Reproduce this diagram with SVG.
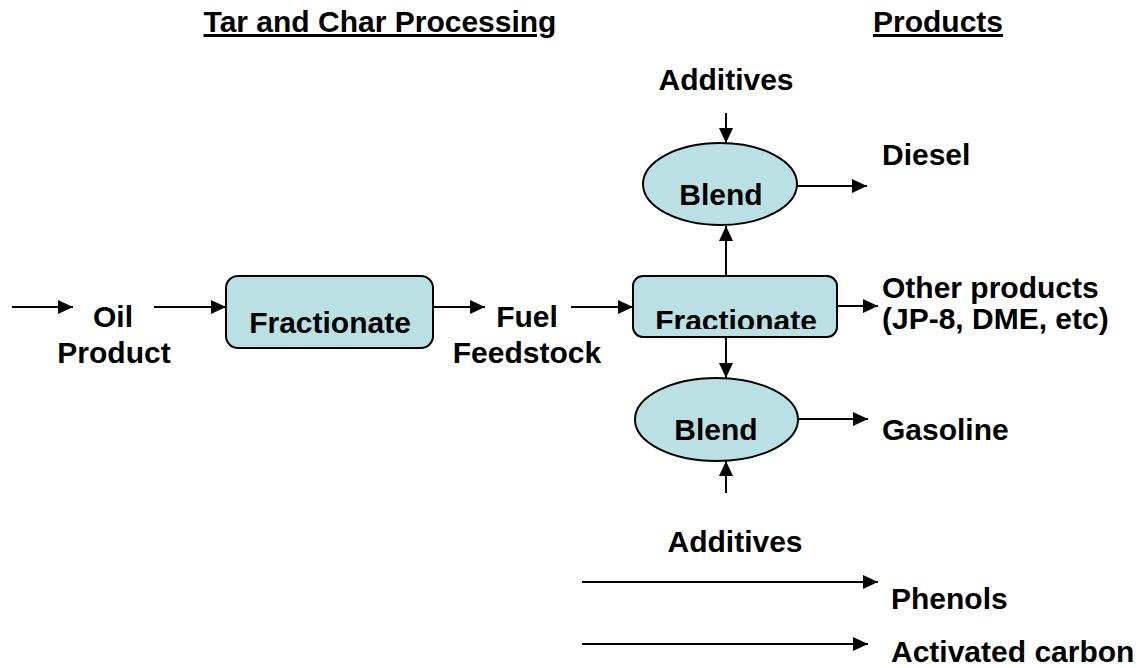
<svg xmlns="http://www.w3.org/2000/svg" width="1141" height="668" viewBox="0 0 1141 668">
<style>
text{font-family:"Liberation Sans",Arial,sans-serif;font-weight:bold;font-size:30px;fill:#000}
.title{text-decoration:underline}
.mid{text-anchor:middle}
.shape{fill:#BBE0E3;stroke:#000;stroke-width:2}
.conn line{stroke:#000;stroke-width:2;marker-end:url(#arr)}
</style>
<defs>
<marker id="arr" markerUnits="userSpaceOnUse" markerWidth="16" markerHeight="14" refX="15" refY="7" orient="auto">
<path d="M0,0 L15,7 L0,14 z" fill="#000"/>
</marker>
<clipPath id="clip2"><rect x="633" y="276" width="204" height="53"/></clipPath>
</defs>
<rect width="1141" height="668" fill="#fff"/>
<g id="titles">
<text class="title mid" x="380" y="32">Tar and Char Processing</text>
<text class="title mid" x="938" y="32">Products</text>
</g>
<g id="connectors" class="conn">
<line x1="12" y1="307" x2="73" y2="307"/>
<line x1="154" y1="307" x2="226" y2="307"/>
<line x1="433" y1="307" x2="485" y2="307"/>
<line x1="571" y1="307" x2="633" y2="307"/>
<line x1="726" y1="276" x2="726" y2="226"/>
<line x1="726" y1="113" x2="726" y2="143"/>
<line x1="797" y1="186" x2="867" y2="186"/>
<line x1="837" y1="306" x2="878" y2="306"/>
<line x1="726" y1="337" x2="726" y2="378"/>
<line x1="798" y1="419" x2="868" y2="419"/>
<line x1="726" y1="493" x2="726" y2="461"/>
<line x1="582" y1="582" x2="878" y2="582"/>
<line x1="582" y1="644" x2="868" y2="644"/>
</g>
<g id="oil-product">
<text class="mid" x="113" y="327">Oil</text>
<text class="mid" x="114" y="363">Product</text>
</g>
<g id="fractionate1">
<rect class="shape" x="226" y="276" width="207" height="72" rx="12"/>
<text class="mid" x="330" y="333">Fractionate</text>
</g>
<g id="fuel-feedstock">
<text class="mid" x="527" y="327">Fuel</text>
<text class="mid" x="527" y="363">Feedstock</text>
</g>
<g id="fractionate2">
<rect class="shape" x="633" y="276" width="204" height="61" rx="10"/>
<text class="mid" x="736" y="331" clip-path="url(#clip2)">Fractionate</text>
</g>
<g id="additives-top">
<text class="mid" x="726" y="90">Additives</text>
</g>
<g id="blend-top">
<ellipse class="shape" cx="720" cy="184" rx="77" ry="41"/>
<text class="mid" x="721" y="205">Blend</text>
</g>
<g id="diesel"><text x="882" y="165">Diesel</text></g>
<g id="other-products">
<text x="882" y="298">Other products</text>
<text x="882" y="329">(JP-8, DME, etc)</text>
</g>
<g id="blend-bottom">
<ellipse class="shape" cx="716.5" cy="419.5" rx="81.5" ry="41.5"/>
<text class="mid" x="716" y="440">Blend</text>
</g>
<g id="gasoline"><text x="882" y="440">Gasoline</text></g>
<g id="additives-bottom">
<text class="mid" x="735" y="552">Additives</text>
</g>
<g id="phenols"><text x="891" y="609">Phenols</text></g>
<g id="activated-carbon"><text x="891" y="662">Activated carbon</text></g>
</svg>
